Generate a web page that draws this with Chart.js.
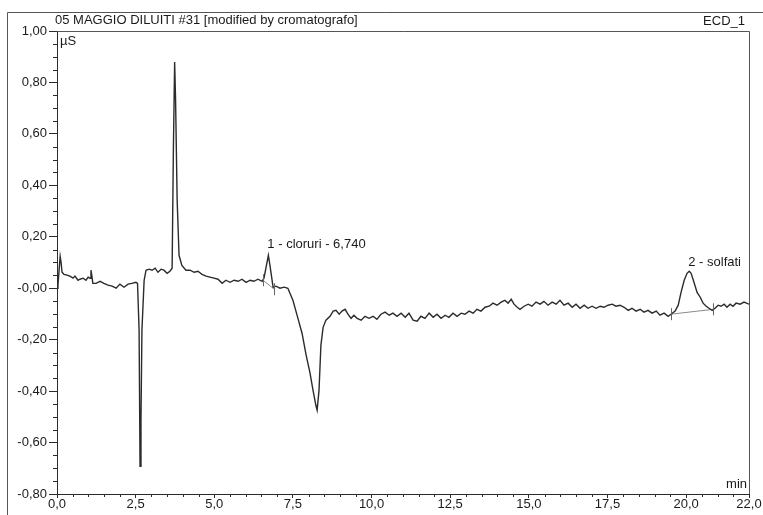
<!DOCTYPE html>
<html>
<head>
<meta charset="utf-8">
<script src="https://cdn.jsdelivr.net/npm/chart.js@4.4.1/dist/chart.umd.min.js"></script>
<style>
  html, body { margin: 0; padding: 0; background: #fff; }
  #wrap { width: 763px; height: 515px; position: relative; }
</style>
</head>
<body>
<div id="wrap"><canvas id="chrom"></canvas></div>
<script>
const titleText = '05 MAGGIO DILUITI #31 [modified by cromatografo]';
const channelText = 'ECD_1';
const yUnit = '\u00b5S';
const xUnit = 'min';

// retention time (min)
const times = [
    0.00, 0.03, 0.10, 0.13, 0.16, 0.22, 0.32, 0.41, 0.51, 0.57, 0.67, 0.73, 0.83, 0.92, 0.99, 1.05, 1.08, 1.11, 1.14,
    1.24, 1.37, 1.49, 1.62, 1.75, 1.88, 2.00, 2.13, 2.26, 2.38, 2.51, 2.56, 2.61, 2.64, 2.67, 2.70, 2.77, 2.83, 2.93,
    3.02, 3.12, 3.21, 3.31, 3.40, 3.50, 3.59, 3.66, 3.70, 3.74, 3.77, 3.82, 3.88, 3.97, 4.10, 4.23, 4.36, 4.48, 4.61,
    4.74, 4.86, 4.99, 5.12, 5.25, 5.37, 5.50, 5.63, 5.76, 5.88, 6.01, 6.14, 6.26, 6.39, 6.52, 6.58, 6.72, 6.77, 6.87,
    6.96, 7.09, 7.22, 7.34, 7.50, 7.66, 7.79, 7.92, 8.04, 8.14, 8.23, 8.27, 8.33, 8.39, 8.46, 8.55, 8.68, 8.78, 8.87,
    8.97, 9.06, 9.16, 9.25, 9.35, 9.44, 9.54, 9.67, 9.79, 9.92, 10.05, 10.17, 10.30, 10.43, 10.56, 10.68, 10.81, 10.94,
    11.07, 11.19, 11.32, 11.45, 11.57, 11.70, 11.83, 11.96, 12.08, 12.21, 12.34, 12.46, 12.59, 12.72, 12.85, 12.97,
    13.10, 13.23, 13.35, 13.48, 13.61, 13.74, 13.86, 13.99, 14.12, 14.24, 14.34, 14.44, 14.53, 14.63, 14.72, 14.85,
    14.98, 15.10, 15.23, 15.36, 15.48, 15.61, 15.74, 15.87, 15.99, 16.12, 16.25, 16.38, 16.50, 16.63, 16.76, 16.88,
    17.01, 17.14, 17.27, 17.39, 17.52, 17.65, 17.77, 17.90, 18.03, 18.16, 18.28, 18.41, 18.54, 18.66, 18.79, 18.92,
    19.05, 19.17, 19.30, 19.43, 19.52, 19.65, 19.75, 19.84, 19.94, 20.03, 20.10, 20.16, 20.25, 20.35, 20.45, 20.54,
    20.64, 20.73, 20.83, 20.92, 21.02, 21.11, 21.21, 21.30, 21.40, 21.49, 21.59, 21.72, 21.84, 22.00
];
// conductivity (uS)
const signal = [
    0.000, 0.012, 0.124, 0.101, 0.062, 0.054, 0.051, 0.047, 0.039, 0.047, 0.031, 0.035, 0.039, 0.031, 0.043, 0.039, 0.070, 0.047, 0.019,
    0.019, 0.027, 0.019, 0.012, 0.008, 0.000, 0.016, 0.004, 0.016, 0.019, 0.023, 0.019, -0.163, -0.692, -0.513, -0.163, 0.031, 0.070, 0.074,
    0.070, 0.078, 0.062, 0.074, 0.070, 0.058, 0.066, 0.078, 0.537, 0.879, 0.731, 0.342, 0.128, 0.089, 0.070, 0.070, 0.062, 0.066, 0.054,
    0.047, 0.043, 0.039, 0.035, 0.019, 0.031, 0.023, 0.031, 0.027, 0.035, 0.023, 0.031, 0.027, 0.035, 0.027, 0.039, 0.128, 0.089, 0.004,
    0.008, 0.000, 0.004, 0.000, -0.047, -0.117, -0.175, -0.260, -0.327, -0.397, -0.455, -0.474, -0.397, -0.222, -0.152, -0.124, -0.109, -0.089, -0.086,
    -0.101, -0.089, -0.082, -0.101, -0.117, -0.105, -0.117, -0.124, -0.109, -0.117, -0.109, -0.121, -0.101, -0.093, -0.105, -0.097, -0.109, -0.097,
    -0.113, -0.097, -0.124, -0.128, -0.109, -0.117, -0.097, -0.113, -0.101, -0.117, -0.105, -0.113, -0.097, -0.109, -0.097, -0.101,
    -0.089, -0.097, -0.082, -0.089, -0.074, -0.070, -0.058, -0.066, -0.054, -0.047, -0.058, -0.043, -0.062, -0.074, -0.082, -0.070,
    -0.062, -0.070, -0.054, -0.062, -0.051, -0.066, -0.054, -0.062, -0.047, -0.066, -0.058, -0.074, -0.062, -0.078, -0.066, -0.078,
    -0.070, -0.078, -0.070, -0.074, -0.066, -0.062, -0.070, -0.066, -0.074, -0.086, -0.078, -0.089, -0.082, -0.093, -0.086, -0.097,
    -0.089, -0.105, -0.097, -0.109, -0.101, -0.089, -0.066, -0.016, 0.031, 0.058, 0.066, 0.058, 0.023, -0.016, -0.035, -0.058,
    -0.070, -0.078, -0.086, -0.078, -0.066, -0.070, -0.062, -0.074, -0.062, -0.070, -0.058, -0.062, -0.054, -0.062
];

// integration baselines of the two named peaks
const peakLabels = ['1 - cloruri - 6,740', '2 - solfati'];
const peakTimes = [6.72, 20.10];
const peakHeights = [0.128, 0.066];
const base1Times = [6.55, 6.91];
const base1Values = [0.031, -0.004];
const base2Times = [19.52, 20.86];
const base2Values = [-0.101, -0.082];

const xMin = 0, xMax = 22, xMajor = 2.5, xMinor = 0.5;
const yMin = -0.8, yMax = 1.0, yMajor = 0.2, yMinor = 0.05;

const FONT = '"Liberation Sans", Arial, sans-serif';
const INK = '#2b2b2b';

const toPoints = (xs, ys) => xs.map((x, i) => ({ x, y: ys[i] }));

// frame, minor ticks, unit labels and peak names
const decorations = {
    id: 'decorations',
    afterDraw(chart) {
        const { ctx, chartArea: a, scales } = chart;
        const xs = scales.x, ys = scales.y;
        ctx.save();
        ctx.strokeStyle = '#555';
        ctx.lineWidth = 1;
        ctx.beginPath();
        // outer frame (top + left)
        ctx.moveTo(7.5, 515); ctx.lineTo(7.5, 12.5); ctx.lineTo(763, 12.5);
        // plot box top + right
        ctx.moveTo(a.left, a.top + 0.5); ctx.lineTo(a.right + 0.5, a.top + 0.5); ctx.lineTo(a.right + 0.5, a.bottom);
        ctx.stroke();

        // minor ticks
        ctx.strokeStyle = INK;
        ctx.beginPath();
        for (let v = xMin; v <= xMax + 1e-9; v += xMinor) {
            if (Math.abs(v / xMajor - Math.round(v / xMajor)) < 1e-6) continue;
            const px = Math.round(xs.getPixelForValue(v)) + 0.5;
            ctx.moveTo(px, a.bottom); ctx.lineTo(px, a.bottom + 3);
        }
        for (let v = yMin; v <= yMax + 1e-9; v += yMinor) {
            if (Math.abs(v / yMajor - Math.round(v / yMajor)) < 1e-6) continue;
            const py = Math.round(ys.getPixelForValue(v)) + 0.5;
            ctx.moveTo(a.left - 4, py); ctx.lineTo(a.left, py);
        }
        ctx.stroke();

        // baseline delimiters
        ctx.strokeStyle = '#666';
        ctx.beginPath();
        [[base1Times, base1Values], [base2Times, base2Values]].forEach(([bt, bv]) => {
            bt.forEach((t, i) => {
                const px = Math.round(xs.getPixelForValue(t)) + 0.5;
                const py = ys.getPixelForValue(bv[i]);
                ctx.moveTo(px, py - 6); ctx.lineTo(px, py + 6);
            });
        });
        ctx.stroke();

        ctx.fillStyle = '#1a1a1a';
        ctx.font = '13px ' + FONT;
        ctx.textBaseline = 'middle';
        ctx.textAlign = 'left';
        ctx.fillText(titleText, 55, 20);
        ctx.fillText(yUnit, a.left + 3, a.top + 10);
        ctx.textAlign = 'right';
        ctx.fillText(channelText, 745, 21);
        ctx.fillText(xUnit, a.right - 2, a.bottom - 10);

        ctx.textAlign = 'left';
        peakLabels.forEach((txt, i) => {
            const px = xs.getPixelForValue(peakTimes[i]);
            const py = ys.getPixelForValue(peakHeights[i]);
            ctx.fillText(txt, px - 1, py - (i === 0 ? 11 : 9));
        });
        ctx.restore();
    }
};

new Chart(document.getElementById('chrom'), {
    type: 'line',
    data: {
        datasets: [
            {
                data: toPoints(times, signal),
                borderColor: INK,
                borderWidth: 1.4,
                pointRadius: 0,
                tension: 0,
            },
            {
                data: toPoints(base1Times, base1Values),
                borderColor: '#8a8a8a',
                borderWidth: 1,
                pointRadius: 0,
            },
            {
                data: toPoints(base2Times, base2Values),
                borderColor: '#8a8a8a',
                borderWidth: 1,
                pointRadius: 0,
            },
        ],
    },
    options: {
        responsive: true,
        maintainAspectRatio: false,
        animation: false,
        layout: { padding: { left: 0, top: 31, right: 14, bottom: 0 } },
        plugins: {
            legend: { display: false },
            tooltip: { enabled: false },
        },
        scales: {
            x: {
                type: 'linear',
                min: xMin,
                max: xMax,
                afterFit: s => { s.height = 21; },
                border: { color: INK, width: 1 },
                grid: { drawOnChartArea: false, tickLength: 4, color: INK },
                ticks: {
                    stepSize: xMajor,
                    color: '#1a1a1a',
                    padding: -1,
                    maxRotation: 0,
                    font: { family: FONT, size: 13 },
                    callback: v => v.toFixed(1).replace('.', ','),
                },
            },
            y: {
                min: yMin,
                max: yMax,
                afterFit: s => { s.width = 57; },
                border: { color: INK, width: 1 },
                grid: { drawOnChartArea: false, tickLength: 8, color: INK },
                ticks: {
                    stepSize: yMajor,
                    color: '#1a1a1a',
                    padding: 2,
                    font: { family: FONT, size: 13 },
                    callback: v => Math.abs(v) < 1e-9 ? '-0,00' : v.toFixed(2).replace('.', ','),
                },
            },
        },
    },
    plugins: [decorations],
});
</script>
</body>
</html>
